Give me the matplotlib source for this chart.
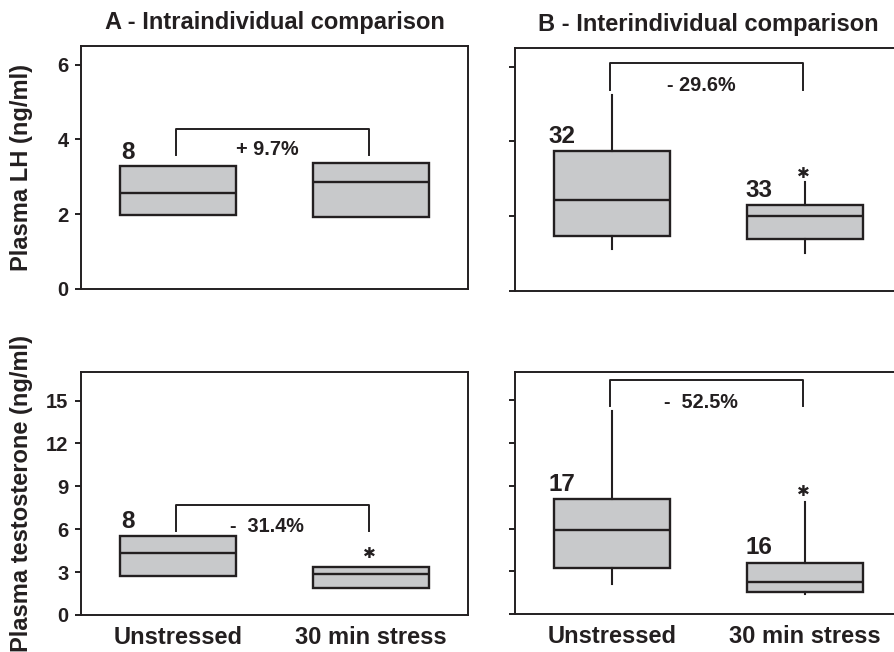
"""Plasma LH and testosterone before/after 30 min stress, intra- vs interindividual."""
import matplotlib
matplotlib.use("Agg")
import matplotlib.pyplot as plt

plt.rcParams["font.family"] = ["Liberation Sans", "DejaVu Sans"]

INK = "#231f20"
FILL = "#c8c9cb"

groups = ["Unstressed", "30 min stress"]

# box stats: (whislo, q1, med, q3, whishi)
lh_intra = [(1.97, 1.97, 2.57, 3.29, 3.29), (1.93, 1.93, 2.86, 3.37, 3.37)]
lh_inter = [(1.12, 1.47, 2.43, 3.74, 5.24), (1.02, 1.39, 2.00, 2.30, 2.91)]
testo_intra = [(2.72, 2.72, 4.35, 5.53, 5.53), (1.91, 1.91, 2.86, 3.33, 3.33)]
testo_inter = [(2.09, 3.21, 5.88, 8.07, 14.25), (1.40, 1.56, 2.23, 3.58, 7.90)]

# n per group, label height
n_lh_intra = [("8", 3.72)]
n_lh_inter = [("32", 4.20), ("33", 2.75)]
n_testo_intra = [("8", 6.70)]
n_testo_inter = [("17", 9.28), ("16", 4.84)]

# bracket (top, leg bottom), change text and its height
br_lh_intra = (4.28, 3.58, "+ 9.7%", 3.79)
br_lh_inter = (6.10, 5.37, "- 29.6%", 5.56)
br_testo_intra = (7.72, 5.88, "-  31.4%", 6.35)
br_testo_inter = (16.45, 14.58, "-  52.5%", 14.98)

# significance stars (height)
star_lh_inter = 3.14
star_testo_intra = 4.30
star_testo_inter = 8.60

W, H = 895, 652
fig = plt.figure(figsize=(W / 100, H / 100), dpi=100)


def px_axes(left, top, right, bottom):
    return fig.add_axes([left / W, 1 - bottom / H, (right - left) / W, (bottom - top) / H])


def panel(ax, stats, ylim, yticks, ns, br, star=None, ylabels=True, xlabels=False):
    bx = [dict(whislo=s[0], q1=s[1], med=s[2], q3=s[3], whishi=s[4], fliers=[])
          for s in stats]
    ax.bxp(bx, positions=[1, 2], widths=0.6, showcaps=False, showfliers=False,
           patch_artist=True,
           boxprops=dict(facecolor=FILL, edgecolor=INK, linewidth=1.7),
           medianprops=dict(color=INK, linewidth=1.7),
           whiskerprops=dict(color=INK, linewidth=1.5))
    ax.set_xlim(0.497, 2.502)
    ax.set_ylim(*ylim)
    ax.set_yticks(yticks)
    for sp in ax.spines.values():
        sp.set_color(INK)
        sp.set_linewidth(1.4)
    ax.tick_params(axis="y", direction="out", length=4, width=1.4, color=INK,
                   labelsize=14.5, pad=5, labelleft=ylabels, labelcolor=INK)
    for lab in ax.get_yticklabels():
        lab.set_fontweight("bold")
    ax.tick_params(axis="x", length=0, pad=8, labelsize=17, labelbottom=xlabels,
                   labelcolor=INK)
    ax.set_xticks([1, 2])
    ax.set_xticklabels(groups if xlabels else ["", ""], fontweight="bold")

    xs = [0.74, 1.76]
    for (txt, y), x in zip(ns, xs):
        ax.text(x, y, txt, ha="center", va="center_baseline", fontsize=17.5,
                fontweight="bold", color=INK)

    top, leg, label, ty = br
    ax.plot([0.99, 0.99, 1.99, 1.99], [leg, top, top, leg], color=INK, lw=1.4)
    ax.text(1.46, ty, label, ha="center", va="center_baseline", fontsize=14.3,
            fontweight="bold", color=INK)
    if star is not None:
        ax.text(1.99, star, "\u2731", ha="center", va="center", fontsize=11,
                color=INK, family="DejaVu Sans")


ax1 = px_axes(81, 46, 468, 289)
panel(ax1, lh_intra, (0, 6.5), [0, 2, 4, 6], n_lh_intra, br_lh_intra)
ax1.set_title("A - Intraindividual comparison", fontsize=17, fontweight="bold",
              color=INK, pad=12)
ax1.set_ylabel("Plasma LH (ng/ml)", fontsize=17, fontweight="bold", color=INK)
ax1.yaxis.set_label_coords(-0.124, 0.5)

ax2 = px_axes(515, 48, 902, 291)
panel(ax2, lh_inter, (0, 6.5), [0, 2, 4, 6], n_lh_inter, br_lh_inter,
      star=star_lh_inter, ylabels=False)
ax2.set_title("B - Interindividual comparison", fontsize=17, fontweight="bold",
              color=INK, pad=12)

ax3 = px_axes(81, 372, 468, 615)
panel(ax3, testo_intra, (0, 17), [0, 3, 6, 9, 12, 15], n_testo_intra,
      br_testo_intra, star=star_testo_intra, xlabels=True)
ax3.set_ylabel("Plasma testosterone (ng/ml)", fontsize=17, fontweight="bold",
               color=INK)
ax3.yaxis.set_label_coords(-0.124, 0.5)

ax4 = px_axes(515, 372, 902, 614)
panel(ax4, testo_inter, (0, 17), [0, 3, 6, 9, 12, 15], n_testo_inter,
      br_testo_inter, star=star_testo_inter, ylabels=False, xlabels=True)

fig.savefig("out.png", dpi=100)
